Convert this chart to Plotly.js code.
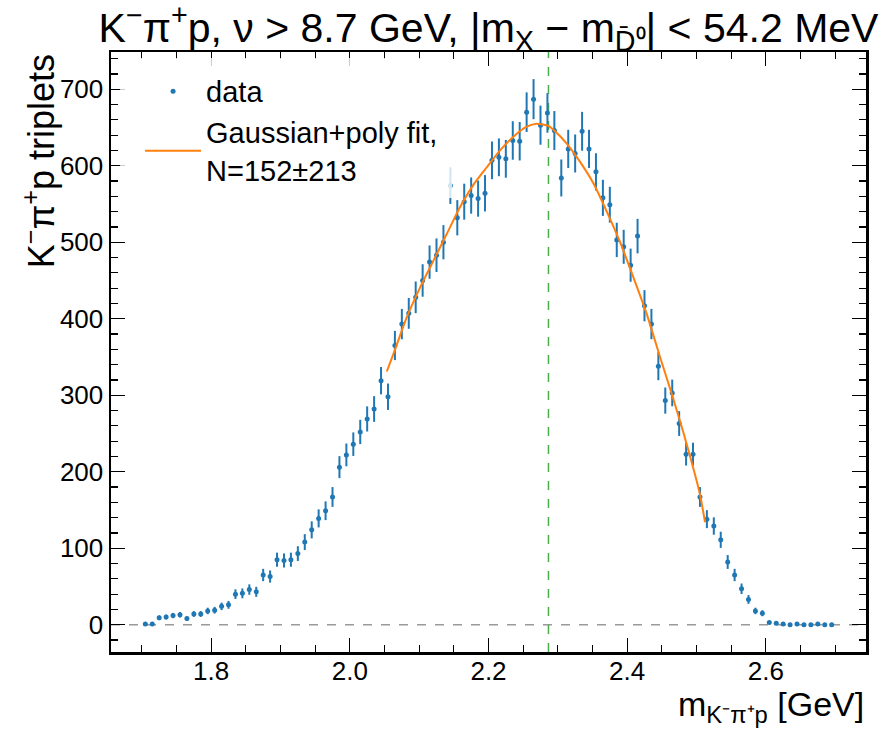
<!DOCTYPE html>
<html>
<head>
<meta charset="utf-8">
<script src="https://cdn.plot.ly/plotly-3.0.1.min.js"></script>
<style>html,body{margin:0;padding:0;background:#fff;}#chart{width:894px;height:730px;}</style>
</head>
<body>
<div id="chart"></div>
<script>
// Bin centres (GeV) of the K-pi+p invariant-mass histogram
const binCenters = [
  1.705,1.715,1.725,1.735,1.745,1.755,1.765,1.775,1.785,1.795,
  1.805,1.815,1.825,1.835,1.845,1.855,1.865,1.875,1.885,1.895,
  1.905,1.915,1.925,1.935,1.945,1.955,1.965,1.975,1.985,1.995,
  2.005,2.015,2.025,2.035,2.045,2.055,2.065,2.075,2.085,2.095,
  2.105,2.115,2.125,2.135,2.145,2.155,2.165,2.175,2.185,2.195,
  2.205,2.215,2.225,2.235,2.245,2.255,2.265,2.275,2.285,2.295,
  2.305,2.315,2.325,2.335,2.345,2.355,2.365,2.375,2.385,2.395,
  2.405,2.415,2.425,2.435,2.445,2.455,2.465,2.475,2.485,2.495,
  2.505,2.515,2.525,2.535,2.545,2.555,2.565,2.575,2.585,2.595,
  2.605,2.615,2.625,2.635,2.645,2.655,2.665,2.675,2.685,2.695
];
// Triplet counts per bin
const counts = [
  1,1,9,10,12,13,8,14,14,18,
  19,24,26,40,41,46,43,65,63,85,
  84,85,93,108,124,139,149,167,206,222,
  236,252,269,282,319,298,365,393,407,428,
  450,474,483,500,574,532,553,561,557,564,
  607,611,609,633,632,670,687,653,669,646,
  584,622,616,645,622,592,558,549,503,494,
  470,508,417,393,338,293,303,263,223,223,
  167,138,129,111,82,65,47,33,18,15,
  3,2,1,0,1,0,0,1,0,0
];
// Gaussian + polynomial fit curve
const fitX = [2.0533,2.0629,2.0822,2.1014,2.1206,2.1399,2.1590,2.1782,2.1975,2.2167,2.2359,2.2552,2.2696,2.2864,2.2936,2.3129,2.3321,2.3513,2.3706,2.3898,2.4090,2.4283,2.4474,2.4666,2.4859,2.5051,2.5123];
const fitY = [331,354,402,441,476,511,546,575,598,620,638,651,655,652,647,629,605,577,540,500,454,406,350,295,236,170,134];
// Reference mass line (GeV)
const refMass = 2.2865;
const xTickVals = [1.8, 2.0, 2.2, 2.4, 2.6];
const xTickText = ['1.8', '2.0', '2.2', '2.4', '2.6'];
const yTickVals = [0, 100, 200, 300, 400, 500, 600, 700];
const yTickText = ['0', '100', '200', '300', '400', '500', '600', '700'];

const FONT = 'Liberation Sans, Arial, Helvetica, sans-serif';
const BLUE = '#1f77b4';
const ORANGE = '#ff7f0e';

const traces = [
  {
    type: 'scatter', mode: 'markers', name: 'data',
    x: binCenters, y: counts,
    marker: {color: BLUE, size: 5},
    error_y: {type: 'sqrt', visible: true, color: BLUE, thickness: 2, width: 0},
    showlegend: true
  },
  {
    type: 'scatter', mode: 'lines', name: 'Gaussian+poly fit,<br>N=152±213',
    x: fitX, y: fitY,
    line: {color: ORANGE, width: 2, shape: 'spline', smoothing: 0.6},
    showlegend: true
  }
];

const axisCommon = {
  showgrid: false, zeroline: false,
  showline: true, linecolor: '#000', linewidth: 2.5, mirror: 'allticks',
  ticks: 'inside', ticklen: 14, tickwidth: 1.3, tickcolor: '#000',
  tickfont: {family: FONT, size: 26, color: '#000'}
};

const layout = {
  width: 894, height: 730,
  paper_bgcolor: '#fff', plot_bgcolor: '#fff',
  margin: {l: 111, r: 28, t: 52, b: 78},
  font: {family: FONT, color: '#000'},
  title: {
    text: 'K<sup>−</sup>π<sup>+</sup>p, ν > 8.7 GeV, |m<sub>X</sub> − m<sub>D̄⁰</sub>| < 54.2 MeV',
    font: {family: FONT, size: 41, color: '#000'},
    x: 0.5, xref: 'paper', xanchor: 'center',
    y: 0.962, yref: 'container', yanchor: 'middle'
  },
  xaxis: Object.assign({}, axisCommon, {
    range: [1.6555, 2.7445],
    tickmode: 'array', tickvals: xTickVals, ticktext: xTickText,
    ticklabelstandoff: -6,
    minor: {dtick: 0.05, ticks: 'inside', ticklen: 7, tickwidth: 1.2, tickcolor: '#000', showgrid: false},
    title: {text: ''}
  }),
  yaxis: Object.assign({}, axisCommon, {
    range: [-35.65, 748.65],
    tickmode: 'array', tickvals: yTickVals, ticktext: yTickText,
    minor: {dtick: 20, ticks: 'inside', ticklen: 7, tickwidth: 1.2, tickcolor: '#000', showgrid: false},
    title: {text: ''}
  }),
  legend: {
    x: 0.0385, xanchor: 'left', xref: 'paper',
    y: 0.977, yanchor: 'top', yref: 'paper',
    bgcolor: 'rgba(255,255,255,0)', borderwidth: 0,
    font: {family: FONT, size: 29, color: '#000'},
    itemwidth: 56, tracegroupgap: 0
  },
  shapes: [
    {type: 'line', xref: 'paper', yref: 'y', x0: 0, x1: 1, y0: 0, y1: 0,
     line: {color: '#9a9a9a', width: 1.5, dash: 'dash'}, layer: 'below'},
    {type: 'line', xref: 'x', yref: 'paper', x0: refMass, x1: refMass, y0: 0, y1: 1,
     line: {color: 'rgba(44,160,44,0.85)', width: 1.5, dash: 'dash'}, layer: 'below'},
    // semi-transparent legend background box
    {type: 'rect', xref: 'paper', yref: 'paper', x0: 0.012, x1: 0.4517, y0: 0.7565, y1: 0.99,
     fillcolor: 'rgba(255,255,255,0.8)', line: {width: 0}, layer: 'above'}
  ],
  annotations: [
    {text: 'K<sup>−</sup>π<sup>+</sup>p triplets', xref: 'paper', yref: 'paper',
     x: -0.095, y: 1.0, xanchor: 'center', yanchor: 'top', textangle: -90, showarrow: false,
     font: {family: FONT, size: 36, color: '#000'}},
    {text: 'm<sub>K⁻π⁺p</sub> [GeV]', xref: 'paper', yref: 'paper',
     x: 1.0, y: -0.09, xanchor: 'right', yanchor: 'middle', showarrow: false,
     font: {family: FONT, size: 34, color: '#000'}}
  ]
};

Plotly.newPlot('chart', traces, layout, {displayModeBar: false, staticPlot: true});
</script>
</body>
</html>
